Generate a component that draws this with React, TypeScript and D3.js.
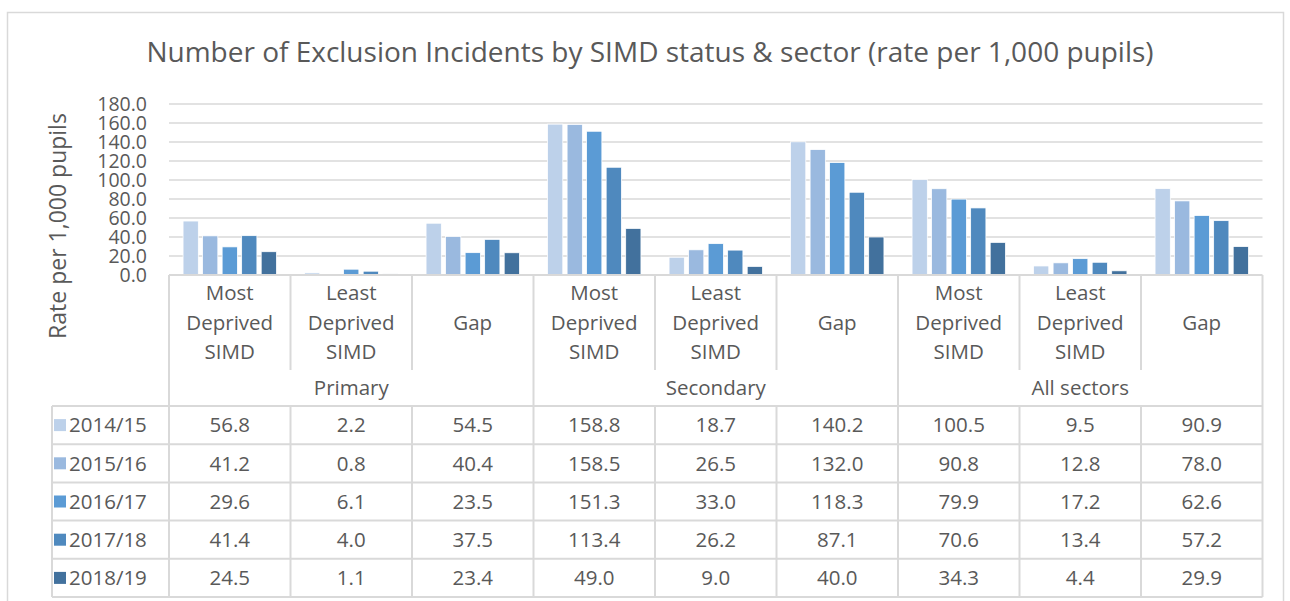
import React, { useRef, useEffect } from 'react';
import * as d3 from 'd3';

// categories (label lines) and sectors
const subCategories = [['Most', 'Deprived', 'SIMD'], ['Least', 'Deprived', 'SIMD'], ['Gap']];
const sectors = ['Primary', 'Secondary', 'All sectors'];
const years = ['2014/15', '2015/16', '2016/17', '2017/18', '2018/19'];
const yTicks = [0, 20, 40, 60, 80, 100, 120, 140, 160, 180];

// one array per year, 9 values in order Primary(M,L,G), Secondary(M,L,G), All(M,L,G)
const v2014 = [56.8, 2.2, 54.5, 158.8, 18.7, 140.2, 100.5, 9.5, 90.9];
const v2015 = [41.2, 0.8, 40.4, 158.5, 26.5, 132.0, 90.8, 12.8, 78.0];
const v2016 = [29.6, 6.1, 23.5, 151.3, 33.0, 118.3, 79.9, 17.2, 62.6];
const v2017 = [41.4, 4.0, 37.5, 113.4, 26.2, 87.1, 70.6, 13.4, 57.2];
const v2018 = [24.5, 1.1, 23.4, 49.0, 9.0, 40.0, 34.3, 4.4, 29.9];
const seriesValues = [v2014, v2015, v2016, v2017, v2018];

const colors = ['#BDD1EA', '#9AB9DF', '#5B9BD5', '#4F89BE', '#42719D'];

const App = () => {
  const svgRef = useRef<SVGSVGElement>(null);

  useEffect(() => {
    const width = 1290, height = 601;
    const svg = d3.select(svgRef.current)
      .attr('width', width)
      .attr('height', height);
    svg.selectAll('*').remove();

    const font = "'Open Sans', sans-serif";
    const textColor = '#595959';
    const lineColor = '#D9D9D9';

    // chart border
    svg.append('rect')
      .attr('x', 7.5).attr('y', 12.5)
      .attr('width', 1276).attr('height', 620)
      .attr('fill', '#fff').attr('stroke', lineColor).attr('stroke-width', 1.5);

    // title
    svg.append('text')
      .attr('x', 650).attr('y', 62)
      .attr('text-anchor', 'middle')
      .attr('font-family', font).attr('font-size', 28)
      .attr('fill', textColor)
      .text('Number of Exclusion Incidents by SIMD status & sector (rate per 1,000 pupils)');

    const left = 169, right = 1262.5, top = 104, bottom = 275;
    const catKeys = d3.range(9);
    const x = d3.scaleBand<number>().domain(catKeys).range([left, right]);
    const x1 = d3.scaleBand<number>().domain(d3.range(years.length))
      .range([0, x.bandwidth()]).paddingInner(0.22).paddingOuter(0.72);
    const y = d3.scaleLinear().domain([0, 180]).range([bottom, top]);

    // gridlines
    svg.append('g').selectAll('line')
      .data(yTicks.filter(t => t > 0))
      .join('line')
      .attr('x1', left).attr('x2', right)
      .attr('y1', d => y(d)).attr('y2', d => y(d))
      .attr('stroke', lineColor).attr('stroke-width', 1.5);

    // y tick labels
    svg.append('g').selectAll('text')
      .data(yTicks)
      .join('text')
      .attr('x', 147).attr('y', d => y(d))
      .attr('dy', '0.36em')
      .attr('text-anchor', 'end')
      .attr('font-family', font).attr('font-size', 19.5)
      .attr('fill', textColor)
      .text(d => d3.format('.1f')(d));

    // y axis title
    svg.append('text')
      .attr('transform', 'translate(58,226) rotate(-90)')
      .attr('text-anchor', 'middle')
      .attr('dy', '0.36em')
      .attr('font-family', font).attr('font-size', 23)
      .attr('fill', textColor)
      .text('Rate per 1,000 pupils');

    // bars
    seriesValues.forEach((vals, si) => {
      svg.append('g').selectAll('rect')
        .data(vals)
        .join('rect')
        .attr('x', (d, i) => (x(i) as number) + (x1(si) as number))
        .attr('y', d => y(d))
        .attr('width', x1.bandwidth())
        .attr('height', d => y(0) - y(d))
        .attr('fill', colors[si])
        .attr('stroke', '#fff').attr('stroke-width', 0.75);
    });

    // data table
    const tableLeft = 52;
    const headerBottom = 406;
    const rowH = 38.2;
    const rowY = (i: number) => headerBottom + i * rowH;
    const tableBottom = rowY(years.length);
    const g = svg.append('g');

    // horizontal lines
    g.append('line').attr('x1', left).attr('x2', right).attr('y1', bottom).attr('y2', bottom)
      .attr('stroke', lineColor).attr('stroke-width', 2);
    d3.range(years.length + 1).forEach(i => {
      g.append('line').attr('x1', tableLeft).attr('x2', right)
        .attr('y1', rowY(i)).attr('y2', rowY(i))
        .attr('stroke', lineColor).attr('stroke-width', 2);
    });

    // vertical lines
    d3.range(10).forEach(i => {
      const xx = i < 9 ? (x(i) as number) : right;
      const full = i % 3 === 0;
      if (full) {
        g.append('line').attr('x1', xx).attr('x2', xx).attr('y1', bottom).attr('y2', tableBottom)
          .attr('stroke', lineColor).attr('stroke-width', 2);
      } else {
        g.append('line').attr('x1', xx).attr('x2', xx).attr('y1', bottom).attr('y2', 370)
          .attr('stroke', lineColor).attr('stroke-width', 2);
        g.append('line').attr('x1', xx).attr('x2', xx).attr('y1', headerBottom).attr('y2', tableBottom)
          .attr('stroke', lineColor).attr('stroke-width', 2);
      }
    });
    g.append('line').attr('x1', tableLeft).attr('x2', tableLeft).attr('y1', headerBottom).attr('y2', tableBottom)
      .attr('stroke', lineColor).attr('stroke-width', 2);

    const cellFont = 20.5;
    // category labels
    catKeys.forEach(i => {
      const lines = subCategories[i % 3];
      const cx = (x(i) as number) + x.bandwidth() / 2;
      const startY = lines.length === 1 ? 323 : 293;
      lines.forEach((ln, li) => {
        g.append('text')
          .attr('x', cx).attr('y', startY + li * 29.5)
          .attr('dy', '0.36em').attr('text-anchor', 'middle')
          .attr('font-family', font).attr('font-size', cellFont)
          .attr('fill', textColor).text(ln);
      });
    });

    // sector labels
    sectors.forEach((s, si) => {
      const cx = (x(si * 3 + 1) as number) + x.bandwidth() / 2;
      g.append('text')
        .attr('x', cx).attr('y', 388)
        .attr('dy', '0.36em').attr('text-anchor', 'middle')
        .attr('font-family', font).attr('font-size', cellFont)
        .attr('fill', textColor).text(s);
    });

    // rows
    years.forEach((yr, ri) => {
      const cy = rowY(ri) + rowH / 2;
      g.append('rect')
        .attr('x', 54).attr('y', cy - 6)
        .attr('width', 12).attr('height', 12)
        .attr('fill', colors[ri]);
      g.append('text')
        .attr('x', 69).attr('y', cy)
        .attr('dy', '0.36em')
        .attr('font-family', font).attr('font-size', cellFont)
        .attr('fill', textColor).text(yr);
      seriesValues[ri].forEach((v, ci) => {
        g.append('text')
          .attr('x', (x(ci) as number) + x.bandwidth() / 2).attr('y', cy)
          .attr('dy', '0.36em').attr('text-anchor', 'middle')
          .attr('font-family', font).attr('font-size', cellFont)
          .attr('fill', textColor).text(d3.format('.1f')(v));
      });
    });
  }, []);

  return (
    <div style={{ position: 'absolute', left: 0, top: 0 }}>
      <svg ref={svgRef} style={{ display: 'block' }}></svg>
    </div>
  );
};

export default App;
